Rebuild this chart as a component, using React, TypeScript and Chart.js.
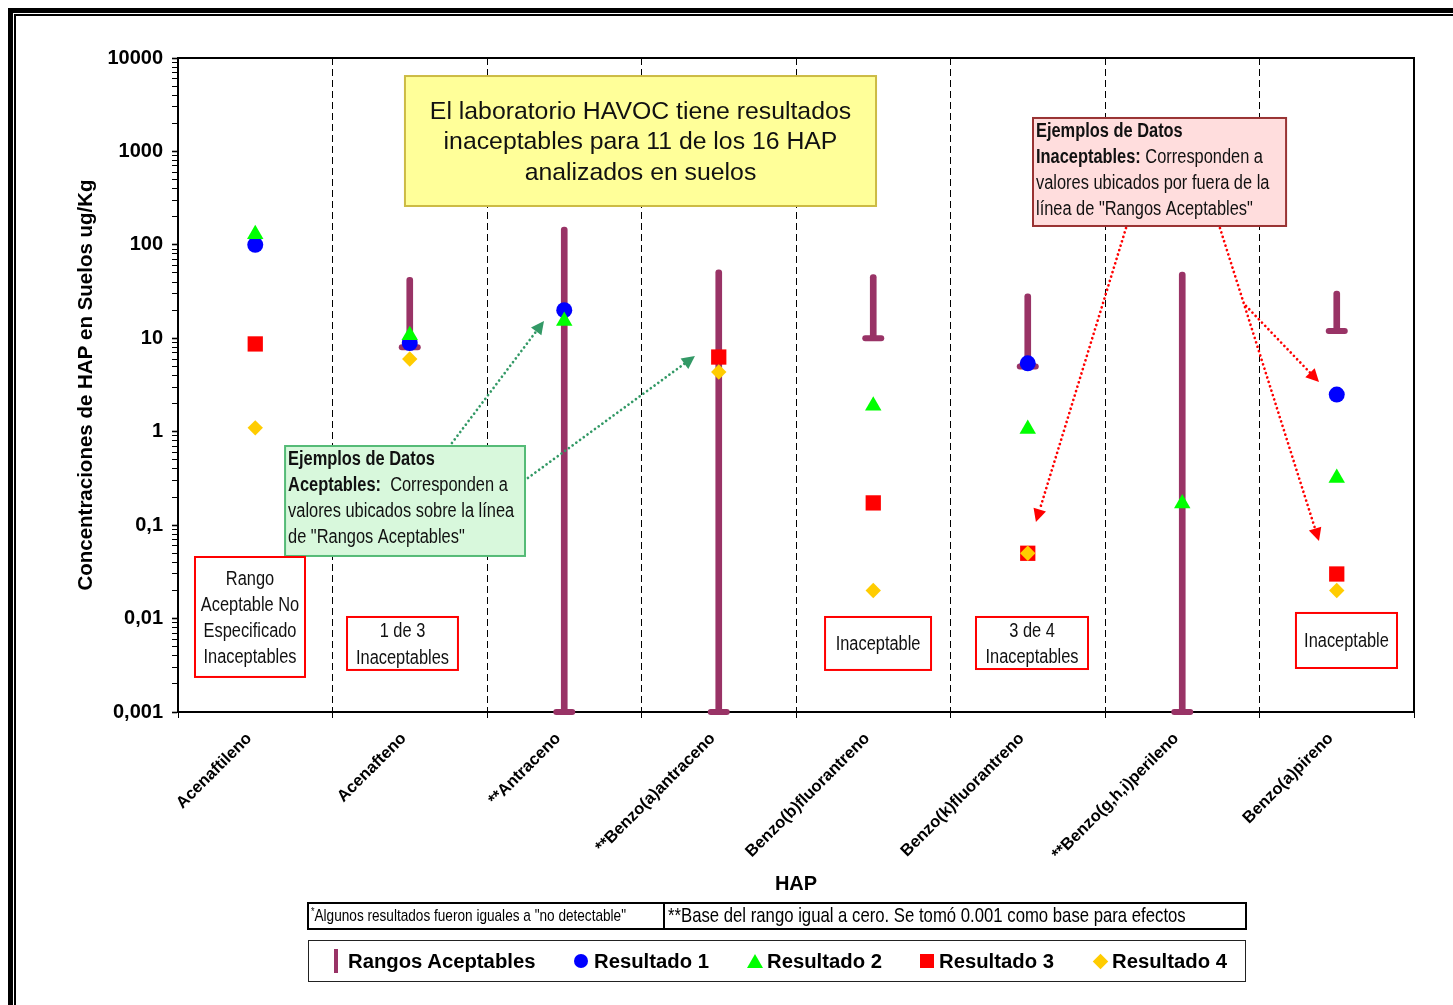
import React, { useEffect, useRef } from 'react';
import { Chart, registerables } from 'chart.js';

Chart.register(...registerables);

// ---- data -------------------------------------------------------------
const CATEGORIES = [
  'Acenaftileno',
  'Acenafteno',
  '**Antraceno',
  '**Benzo(a)antraceno',
  'Benzo(b)fluorantreno',
  'Benzo(k)fluorantreno',
  '**Benzo(g,h,i)perileno',
  'Benzo(a)pireno',
];

// acceptable range per compound (low / high), null = not specified
const RANGE_LOW = [null, 8, 0.001, 0.001, 10, 5, 0.001, 12];
const RANGE_HIGH = [null, 45, 155, 54, 48, 30, 51, 32];

const RESULT_1 = [100, 8.9, 20, null, null, 5.4, null, 2.5];
const RESULT_2 = [130, 10.8, 15.3, null, 1.9, 1.07, 0.17, 0.32];
const RESULT_3 = [8.7, null, null, 6.3, 0.173, 0.05, null, 0.03];
const RESULT_4 = [1.1, 6.0, null, 4.36, 0.02, 0.05, null, 0.02];

const Y_TICK_VALUES = [0.001, 0.01, 0.1, 1, 10, 100, 1000, 10000];
const Y_TICK_LABELS = ['0,001', '0,01', '0,1', '1', '10', '100', '1000', '10000'];

const SERIES_NAMES = ['Rangos Aceptables', 'Resultado 1', 'Resultado 2', 'Resultado 3', 'Resultado 4'];

// ---- styles -----------------------------------------------------------
const ARIAL = '"Liberation Sans", Arial, sans-serif';
const NARROW_SCALE = 0.82; // condensed look obtained by squeezing Liberation Sans
const PURPLE = '#993366';
const BLUE = '#0000FF';
const GREEN = '#00FF00';
const RED = '#FF0000';
const GOLD = '#FFCC00';

type Run = { text: string; bold?: boolean };
type Note = {
  // x in category units, y in log10 units
  x0: number; x1: number; yTop: number; yBot: number;
  fill: string; stroke: string;
  size: number;
  squeeze: number;
  align: 'center' | 'left';
  gap: number;
  lines: Run[][];
};

const NOTES: Note[] = [
  {
    x0: 0.969, x1: 4.018, yTop: 3.807, yBot: 2.416,
    fill: '#FFFF99', stroke: '#CCBB44', size: 24.8, squeeze: 1,
    align: 'center', gap: 30.5,
    lines: [
      [{ text: 'El laboratorio HAVOC tiene resultados' }],
      [{ text: 'inaceptables para 11 de los 16 HAP' }],
      [{ text: 'analizados en suelos' }],
    ],
  },
  {
    x0: 0.193, x1: 1.746, yTop: -0.153, yBot: -1.33,
    fill: '#D8F8DC', stroke: '#55BB77', size: 20, squeeze: NARROW_SCALE,
    align: 'left', gap: 26,
    lines: [
      [{ text: 'Ejemplos de Datos', bold: true }],
      [{ text: 'Aceptables:', bold: true }, { text: '  Corresponden a' }],
      [{ text: 'valores ubicados sobre la línea' }],
      [{ text: 'de "Rangos Aceptables"' }],
    ],
  },
  {
    x0: 5.034, x1: 6.672, yTop: 3.358, yBot: 2.202,
    fill: '#FFDDDD', stroke: '#993333', size: 20, squeeze: NARROW_SCALE,
    align: 'left', gap: 26,
    lines: [
      [{ text: 'Ejemplos de Datos', bold: true }],
      [{ text: 'Inaceptables:', bold: true }, { text: ' Corresponden a' }],
      [{ text: 'valores ubicados por fuera de la' }],
      [{ text: 'línea de "Rangos Aceptables"' }],
    ],
  },
  {
    x0: -0.39, x1: 0.322, yTop: -1.341, yBot: -2.625,
    fill: '#FFFFFF', stroke: RED, size: 20, squeeze: NARROW_SCALE,
    align: 'center', gap: 26,
    lines: [[{ text: 'Rango' }], [{ text: 'Aceptable No' }], [{ text: 'Especificado' }], [{ text: 'Inaceptables' }]],
  },
  {
    x0: 0.594, x1: 1.312, yTop: -1.983, yBot: -2.55,
    fill: '#FFFFFF', stroke: RED, size: 20, squeeze: NARROW_SCALE,
    align: 'center', gap: 26.5,
    lines: [[{ text: '1 de 3' }], [{ text: 'Inaceptables' }]],
  },
  {
    x0: 3.688, x1: 4.374, yTop: -1.983, yBot: -2.55,
    fill: '#FFFFFF', stroke: RED, size: 20, squeeze: NARROW_SCALE,
    align: 'center', gap: 26,
    lines: [[{ text: 'Inaceptable' }]],
  },
  {
    x0: 4.665, x1: 5.39, yTop: -1.983, yBot: -2.54,
    fill: '#FFFFFF', stroke: RED, size: 20, squeeze: NARROW_SCALE,
    align: 'center', gap: 26.5,
    lines: [[{ text: '3 de 4' }], [{ text: 'Inaceptables' }]],
  },
  {
    x0: 6.736, x1: 7.39, yTop: -1.94, yBot: -2.529,
    fill: '#FFFFFF', stroke: RED, size: 20, squeeze: NARROW_SCALE,
    align: 'center', gap: 26,
    lines: [[{ text: 'Inaceptable' }]],
  },
];

// dotted pointer arrows: [category, log10 value]
const ARROWS: { from: [number, number]; to: [number, number]; color: string }[] = [
  { from: [1.273, -0.121], to: [1.869, 1.185], color: '#339966' },
  { from: [1.765, -0.495], to: [2.846, 0.81], color: '#339966' },
  { from: [5.636, 2.18], to: [5.053, -0.966], color: RED },
  { from: [6.244, 2.18], to: [6.885, -1.17], color: RED },
  { from: [6.413, 1.346], to: [6.885, 0.532], color: RED },
];

function drawArrow(ctx: CanvasRenderingContext2D, x1: number, y1: number, x2: number, y2: number, color: string) {
  const ang = Math.atan2(y2 - y1, x2 - x1);
  const head = 13;
  const half = 6.5;
  const bx = x2 - Math.cos(ang) * head;
  const by = y2 - Math.sin(ang) * head;
  ctx.save();
  ctx.strokeStyle = color;
  ctx.lineWidth = 2.7;
  ctx.lineCap = 'round';
  ctx.setLineDash([0.01, 4.6]);
  ctx.beginPath();
  ctx.moveTo(x1, y1);
  ctx.lineTo(bx, by);
  ctx.stroke();
  ctx.setLineDash([]);
  ctx.fillStyle = color;
  ctx.beginPath();
  ctx.moveTo(x2, y2);
  ctx.lineTo(bx - Math.sin(ang) * half, by + Math.cos(ang) * half);
  ctx.lineTo(bx + Math.sin(ang) * half, by - Math.cos(ang) * half);
  ctx.closePath();
  ctx.fill();
  ctx.restore();
}

const notesPlugin = {
  id: 'notes',
  beforeDatasetDraw(chart: any) {
    chart.ctx.lineCap = 'round';
  },
  afterDatasetDraw(chart: any) {
    chart.ctx.lineCap = 'butt';
  },
  afterDatasetsDraw(chart: any) {
    const { ctx, chartArea, scales } = chart;
    const xs = scales.x;
    const ys = scales.y;
    const px = (v: number) => xs.getPixelForValue(v);
    const py = (l: number) => ys.getPixelForValue(Math.pow(10, l));

    // plot frame (top and right edges)
    ctx.save();
    ctx.strokeStyle = '#000';
    ctx.lineWidth = 2;
    ctx.beginPath();
    ctx.moveTo(chartArea.left, chartArea.top);
    ctx.lineTo(chartArea.right, chartArea.top);
    ctx.lineTo(chartArea.right, chartArea.bottom);
    ctx.stroke();
    ctx.restore();

    for (const a of ARROWS) {
      drawArrow(ctx, px(a.from[0]), py(a.from[1]), px(a.to[0]), py(a.to[1]), a.color);
    }

    for (const n of NOTES) {
      const l = px(n.x0);
      const r = px(n.x1);
      const t = py(n.yTop);
      const b = py(n.yBot);
      ctx.save();
      ctx.fillStyle = n.fill;
      ctx.fillRect(l, t, r - l, b - t);
      ctx.strokeStyle = n.stroke;
      ctx.lineWidth = 2;
      ctx.strokeRect(l, t, r - l, b - t);
      ctx.fillStyle = '#111';
      ctx.textBaseline = 'middle';
      ctx.textAlign = 'left';
      const fontOf = (run: Run) => `${run.bold ? 'bold ' : ''}${n.size}px "Liberation Sans", Arial, sans-serif`;
      const firstY = n.align === 'center'
        ? (t + b) / 2 - ((n.lines.length - 1) * n.gap) / 2 + 1.5
        : t + 13.5;
      n.lines.forEach((line, i) => {
        const widths = line.map((run) => {
          ctx.font = fontOf(run);
          return ctx.measureText(run.text).width * n.squeeze;
        });
        const total = widths.reduce((s, w) => s + w, 0);
        let x = n.align === 'center' ? (l + r) / 2 - total / 2 : l + 3;
        const y = firstY + i * n.gap;
        line.forEach((run, k) => {
          ctx.font = fontOf(run);
          ctx.save();
          ctx.translate(x, y);
          ctx.scale(n.squeeze, 1);
          ctx.fillText(run.text, 0, 0);
          ctx.restore();
          x += widths[k];
        });
      });
      ctx.restore();
    }
  },
};

function yTickLabel(v: number): string {
  const idx = Y_TICK_VALUES.findIndex((t) => Math.abs(Math.log10(t) - Math.log10(v)) < 1e-6);
  return idx >= 0 ? Y_TICK_LABELS[idx] : '';
}

function ChartCanvas() {
  const ref = useRef<HTMLCanvasElement | null>(null);

  useEffect(() => {
    const canvas = ref.current;
    if (!canvas) return;
    const point = (label: string, data: (number | null)[], style: string, radius: number, color: string, order: number) => ({
      type: 'line' as const,
      label,
      data,
      showLine: false,
      pointStyle: style,
      pointRadius: radius,
      pointHoverRadius: radius,
      pointBackgroundColor: color,
      pointBorderColor: color,
      pointBorderWidth: 0,
      backgroundColor: color,
      borderColor: color,
      clip: false as const,
      order,
    });

    const chart = new Chart(canvas, {
      type: 'bar',
      data: {
        labels: CATEGORIES,
        datasets: [
          {
            type: 'bar',
            label: SERIES_NAMES[0],
            data: RANGE_LOW.map((lo, i) => (lo == null ? null : [lo, RANGE_HIGH[i] as number])) as any,
            backgroundColor: PURPLE,
            barThickness: 6,
            borderRadius: 3,
            borderSkipped: false,
            clip: false,
            order: 10,
          } as any,
          {
            type: 'line',
            label: SERIES_NAMES[0] + ' (base)',
            data: RANGE_LOW,
            showLine: false,
            pointStyle: 'line',
            pointRadius: 8,
            pointHoverRadius: 8,
            pointBorderWidth: 6,
            pointBorderColor: PURPLE,
            borderColor: PURPLE,
            clip: false,
            order: 9,
          } as any,
          point(SERIES_NAMES[1], RESULT_1, 'circle', 8, BLUE, 4),
          point(SERIES_NAMES[2], RESULT_2, 'triangle', 9.5, GREEN, 3),
          point(SERIES_NAMES[3], RESULT_3, 'rect', 10.8, RED, 2),
          point(SERIES_NAMES[4], RESULT_4, 'rectRot', 7.7, GOLD, 1),
        ],
      },
      options: {
        responsive: false,
        animation: false,
        devicePixelRatio: 1,
        layout: { padding: { left: 66, top: 50, right: 39, bottom: 109 } },
        plugins: {
          legend: { display: false },
          tooltip: { enabled: false },
          title: { display: false },
        },
        scales: {
          x: {
            type: 'category',
            offset: true,
            grid: {
              offset: true,
              color: '#000',
              lineWidth: 1,
              drawTicks: true,
              tickLength: 6,
              tickColor: '#000',
              tickWidth: 1,
            },
            border: { display: true, color: '#000', width: 2, dash: [7, 4] },
            ticks: {
              autoSkip: false,
              maxRotation: 45,
              minRotation: 45,
              padding: 11,
              labelOffset: -6,
              color: '#000',
              font: { family: ARIAL, size: 16.5, weight: 'bold' },
            },
            title: {
              display: true,
              text: 'HAP',
              color: '#000',
              padding: 0,
              font: { family: ARIAL, size: 20, weight: 'bold' },
            },
            afterFit: (s: any) => {
              s.height = 184;
            },
          },
          y: {
            type: 'logarithmic',
            min: 0.001,
            max: 10000,
            grid: {
              drawOnChartArea: false,
              drawTicks: true,
              tickLength: 6,
              tickColor: '#000',
              tickWidth: (c: any) => (c.tick && c.tick.major ? 1.6 : 1),
            },
            border: { display: true, color: '#000', width: 2 },
            ticks: {
              autoSkip: false,
              padding: 9,
              color: '#000',
              font: { family: ARIAL, size: 20, weight: 'bold' },
              callback: (v: any) => yTickLabel(Number(v)),
            },
            title: {
              display: true,
              text: 'Concentraciones de HAP en Suelos ug/Kg',
              color: '#000',
              padding: 0,
              font: { family: ARIAL, size: 20.5, weight: 'bold' },
            },
            afterBuildTicks: (axis: any) => {
              const ticks: { value: number; major?: boolean }[] = [];
              Y_TICK_VALUES.forEach((d, i) => {
                ticks.push({ value: d, major: true });
                if (i < Y_TICK_VALUES.length - 1) {
                  for (let m = 2; m <= 9; m++) ticks.push({ value: d * m, major: false });
                }
              });
              axis.ticks = ticks;
            },
            afterFit: (s: any) => {
              s.width = 104;
            },
          },
        },
      } as any,
      plugins: [notesPlugin],
    });
    return () => chart.destroy();
  }, []);

  return (
    <canvas
      ref={ref}
      width={1445}
      height={997}
      style={{ position: 'absolute', left: 0, top: 0, width: 1445, height: 997 }}
    />
  );
}

function LegendMarker({ kind }: { kind: number }) {
  const base: React.CSSProperties = { position: 'absolute', top: '50%' };
  if (kind === 0) return <div style={{ ...base, width: 4, height: 24, marginTop: -12, marginLeft: -2, background: PURPLE }} />;
  if (kind === 1) return <div style={{ ...base, width: 14, height: 14, marginTop: -7, marginLeft: -7, borderRadius: '50%', background: BLUE }} />;
  if (kind === 2)
    return (
      <div
        style={{
          ...base,
          width: 0,
          height: 0,
          marginTop: -7,
          marginLeft: -8,
          borderLeft: '8px solid transparent',
          borderRight: '8px solid transparent',
          borderBottom: `14px solid ${GREEN}`,
        }}
      />
    );
  if (kind === 3) return <div style={{ ...base, width: 14, height: 14, marginTop: -7, marginLeft: -7, background: RED }} />;
  return <div style={{ ...base, width: 11, height: 11, marginTop: -5.5, marginLeft: -5.5, background: GOLD, transform: 'rotate(45deg)' }} />;
}

// marker centre and text start within the legend box
const LEGEND_POS = [
  { m: 27, t: 39 },
  { m: 272, t: 285 },
  { m: 446, t: 458 },
  { m: 618, t: 630 },
  { m: 791, t: 803 },
];

const squeezed: React.CSSProperties = {
  display: 'inline-block',
  transform: `scaleX(${NARROW_SCALE})`,
  transformOrigin: 'left center',
  whiteSpace: 'nowrap',
};

export default function App() {
  return (
    <div
      style={{
        position: 'fixed',
        left: 8,
        top: 8,
        width: 1445,
        height: 997,
        overflow: 'hidden',
        background: '#fff',
        fontFamily: ARIAL,
      }}
    >
      {/* double outer frame */}
      <div
        style={{
          position: 'absolute',
          left: 0,
          top: 0,
          width: 1480,
          height: 1030,
          border: '5px solid #000',
          boxSizing: 'border-box',
        }}
      >
        <div
          style={{
            position: 'absolute',
            left: 1,
            top: 1,
            width: 1460,
            height: 1010,
            border: '2px solid #000',
            boxSizing: 'border-box',
          }}
        />
      </div>

      <ChartCanvas />

      {/* footnotes */}
      <div
        style={{
          position: 'absolute',
          left: 299,
          top: 894,
          width: 358,
          height: 28,
          border: '2px solid #000',
          boxSizing: 'border-box',
          overflow: 'hidden',
          color: '#000',
        }}
      >
        <span style={{ ...squeezed, position: 'absolute', left: 2, top: 0, fontSize: 16.6, lineHeight: '24px' }}>
          <span style={{ fontSize: 11, verticalAlign: 'top', lineHeight: '14px' }}>*</span>Algunos resultados fueron iguales a "no detectable"
        </span>
      </div>
      <div
        style={{
          position: 'absolute',
          left: 655,
          top: 894,
          width: 584,
          height: 28,
          border: '2px solid #000',
          boxSizing: 'border-box',
          overflow: 'hidden',
          color: '#000',
        }}
      >
        <span style={{ ...squeezed, position: 'absolute', left: 3, top: -1, fontSize: 20.4, lineHeight: '24px' }}>
          **Base del rango igual a cero. Se tomó 0.001 como base para efectos
        </span>
      </div>

      {/* legend */}
      <div
        style={{
          position: 'absolute',
          left: 300,
          top: 932,
          width: 938,
          height: 42,
          border: '1.5px solid #222',
          boxSizing: 'border-box',
        }}
      >
        {SERIES_NAMES.map((name, i) => (
          <React.Fragment key={name}>
            <div style={{ position: 'absolute', left: LEGEND_POS[i].m, top: 0, height: '100%' }}>
              <LegendMarker kind={i} />
            </div>
            <div
              style={{
                position: 'absolute',
                left: LEGEND_POS[i].t,
                top: 0,
                height: '100%',
                display: 'flex',
                alignItems: 'center',
                fontSize: 20.3,
                fontWeight: 'bold',
                whiteSpace: 'nowrap',
                color: '#000',
              }}
            >
              {name}
            </div>
          </React.Fragment>
        ))}
      </div>
    </div>
  );
}
